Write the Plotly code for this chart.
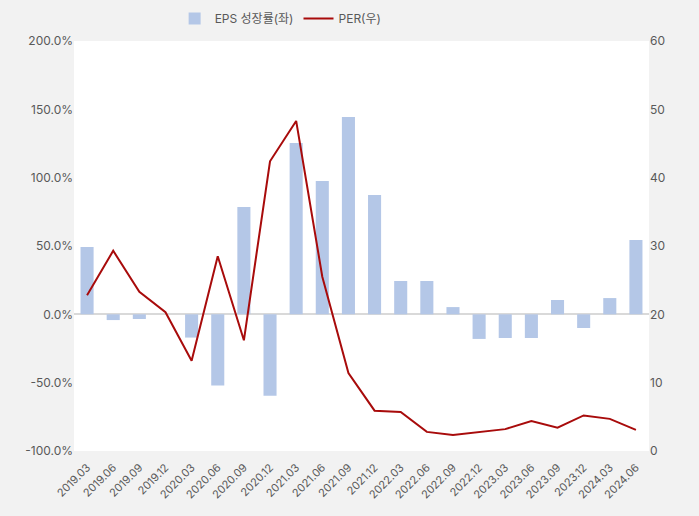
import plotly.graph_objects as go

quarters = ["2019.03", "2019.06", "2019.09", "2019.12", "2020.03", "2020.06", "2020.09", "2020.12",
            "2021.03", "2021.06", "2021.09", "2021.12", "2022.03", "2022.06", "2022.09", "2022.12",
            "2023.03", "2023.06", "2023.09", "2023.12", "2024.03", "2024.06"]
eps_growth = [49.2, -4.2, -3.4, 0.0, -17.0, -52.0, 78.5, -59.5,
              125.3, 97.5, 144.4, 87.3, 24.4, 24.4, 5.3, -18.0,
              -17.3, -17.3, 10.5, -10.0, 11.9, 54.4]
per = [22.8, 29.3, 23.3, 20.3, 13.2, 28.5, 16.2, 42.4,
       48.3, 25.5, 11.4, 5.9, 5.7, 2.8, 2.35, 2.8,
       3.2, 4.4, 3.4, 5.2, 4.7, 3.1]
left_ticks = [-100, -50, 0, 50, 100, 150, 200]
left_labels = ["-100.0%", "-50.0%", "0.0%", "50.0%", "100.0%", "150.0%", "200.0%"]

font_family = "Inter, Noto Sans CJK KR, sans-serif"
tick_color = "#595959"

fig = go.Figure()
fig.add_trace(go.Bar(x=quarters, y=eps_growth, name="EPS 성장률(좌)",
                     marker=dict(color="#b4c7e7", line=dict(width=0)), width=0.5, yaxis="y"))
fig.add_trace(go.Scatter(x=quarters, y=per, name="PER(우)", mode="lines",
                         line=dict(color="#a80b0b", width=2), yaxis="y2"))

fig.update_layout(
    width=699, height=516,
    margin=dict(l=74, r=50, t=41, b=65, autoexpand=False),
    paper_bgcolor="#f2f2f2", plot_bgcolor="#ffffff",
    font=dict(family=font_family, size=12, color=tick_color),
    showlegend=True,
    legend=dict(orientation="h", x=0.175, xanchor="left", y=1.055, yanchor="middle",
                font=dict(size=12, color=tick_color), bgcolor="rgba(0,0,0,0)",
                itemwidth=30, tracegroupgap=0),
    xaxis=dict(type="category", tickangle=-45, showgrid=False, showline=False, ticks="",
               tickfont=dict(size=11, color=tick_color), automargin=False,
               ticklabelstandoff=7),
    yaxis=dict(range=[-100, 200], tickvals=left_ticks, ticktext=left_labels,
               showgrid=False, zeroline=True, zerolinecolor="#d9d9d9", zerolinewidth=1.5,
               showline=False, ticks="", tickfont=dict(size=12, color=tick_color), automargin=False),
    yaxis2=dict(range=[0, 60], dtick=10, overlaying="y", side="right", showgrid=False,
                zeroline=False, showline=False, ticks="", tickfont=dict(size=12, color=tick_color),
                automargin=False),
)

fig.write_html("out.html")
